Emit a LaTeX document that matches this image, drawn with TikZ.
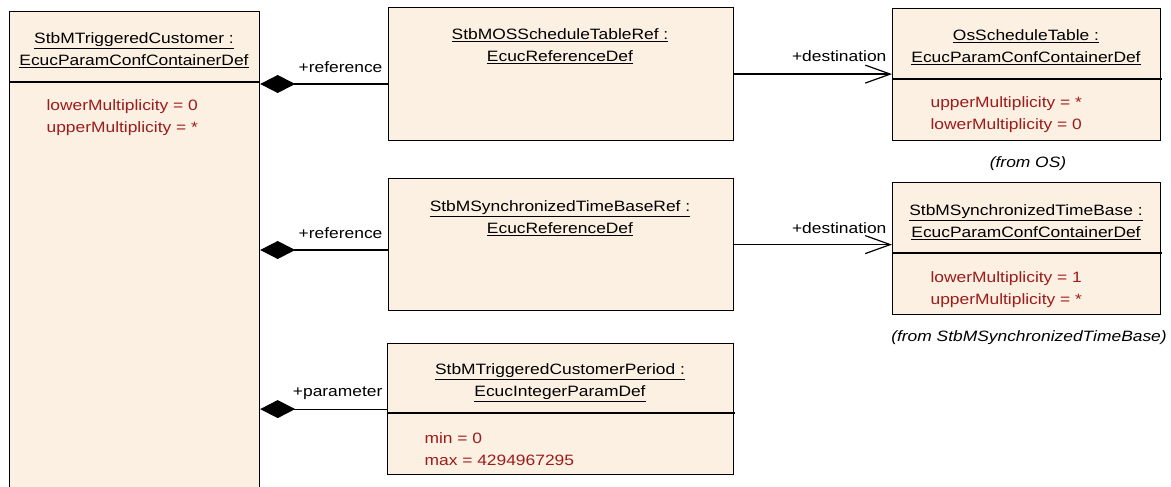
\documentclass[tikz,border=0pt]{standalone}
\usepackage{fontspec}
\setmainfont{Liberation Sans}[FakeStretch=1.16]
\usetikzlibrary{arrows.meta}
\definecolor{classfill}{HTML}{FBF0E2}
\definecolor{attrred}{HTML}{9E1B1B}

\begin{document}
\begin{tikzpicture}[x = 1pt, y = -1pt, line width = 1.2pt,
    every node/.style = {font = \fontsize{15}{22}\selectfont},
    cls/.style = {draw, fill = classfill, anchor = north west, inner sep = 0pt},
    title/.style = {align = center, inner sep = 0pt},
    attr/.style = {align = left, anchor = west, inner sep = 0pt, text = attrred},
    role/.style = {anchor = east, inner sep = 1pt},
    from/.style = {font = \fontsize{15}{22}\selectfont\itshape},
    comp/.style = {{Diamond[length = 35pt, width = 18pt]}-},
    dest/.style = {-{Straight Barb[length = 25pt, width = 18pt]}}]
  \useasboundingbox (0, 0) rectangle (1171, 487);
  % classes
  \node [cls, minimum width = 250pt, minimum height = 490pt] (cust) at (9, 11) {};
  \node [cls, minimum width = 345pt, minimum height = 133pt] (osref) at (388, 7) {};
  \node [cls, minimum width = 345pt, minimum height = 132pt] (tbref) at (388, 178) {};
  \node [cls, minimum width = 346pt, minimum height = 131pt] (period) at (387, 343) {};
  \node [cls, minimum width = 268pt, minimum height = 132pt] (ostab) at (892, 8) {};
  \node [cls, minimum width = 268pt, minimum height = 132pt] (tbase) at (892, 182) {};
  \draw (cust.west |- 0, 82) -- (cust.east |- 0, 82);
  \draw (ostab.west |- 0, 79) -- ++(270, 0);
  \draw (tbase.west |- 0, 253) -- ++(270, 0);
  \draw (period.west |- 0, 413) -- ++(348, 0);
  % titles and attributes
  \node [title] (custt) at (134, 50) {\underline{StbMTriggeredCustomer :}\\\underline{EcucParamConfContainerDef}};
  \node [attr] (custa) at (46, 118) {lowerMultiplicity = 0\\upperMultiplicity = *};
  \node [title] (osreft) at (560, 46) {\underline{StbMOSScheduleTableRef :}\\\underline{EcucReferenceDef}};
  \node [title] (tbreft) at (560, 218) {\underline{StbMSynchronizedTimeBaseRef :}\\\underline{EcucReferenceDef}};
  \node [title] (periodt) at (560, 383) {\underline{StbMTriggeredCustomerPeriod :}\\\underline{EcucIntegerParamDef}};
  \node [attr] (perioda) at (424, 449) {min = 0\\max = 4294967295};
  \node [title] (ostabt) at (1026, 47) {\underline{OsScheduleTable :}\\\underline{EcucParamConfContainerDef}};
  \node [attr] (ostaba) at (930, 115) {upperMultiplicity = *\\lowerMultiplicity = 0};
  \node [title] (tbaset) at (1026, 222) {\underline{StbMSynchronizedTimeBase :}\\\underline{EcucParamConfContainerDef}};
  \node [attr] (tbasea) at (930, 290) {lowerMultiplicity = 1\\upperMultiplicity = *};
  \node [from] (osfrom) at (1028, 164) {(from OS)};
  \node [from] (tbfrom) at (1029, 338) {(from StbMSynchronizedTimeBase)};
  % connectors
  \draw [comp] (cust.east |- 0, 84) -- (osref.west |- 0, 84);
  \draw [comp] (cust.east |- 0, 250) -- (tbref.west |- 0, 250);
  \draw [comp] (cust.east |- period.west) -- (period.west);
  \draw [dest] (osref.east) -- (osref.east -| ostab.west);
  \draw [dest] (tbref.east) -- (tbref.east -| tbase.west);
  \node [role] (ref1) at (384, 67) {+reference};
  \node [role] (ref2) at (384, 233) {+reference};
  \node [role] (par) at (384, 393) {+parameter};
  \node [role] (dst1) at (888, 56) {+destination};
  \node [role] (dst2) at (888, 228) {+destination};
\end{tikzpicture}
\end{document}
